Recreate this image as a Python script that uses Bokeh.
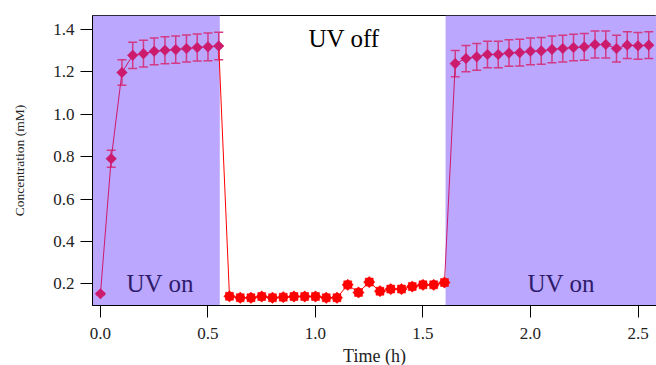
import numpy as np
from bokeh.plotting import figure
from bokeh.models import (BoxAnnotation, Whisker, TeeHead, ColumnDataSource,
                          FixedTicker, PrintfTickFormatter, Label)
from bokeh.embed import file_html
from bokeh.resources import INLINE

# ---- data ----
t_on1 = [0.0, 0.05, 0.10, 0.15, 0.20, 0.25, 0.30, 0.35, 0.40, 0.45, 0.50, 0.55]
c_on1 = [0.153, 0.790, 1.197, 1.278, 1.286, 1.297, 1.302, 1.305, 1.310, 1.315, 1.318, 1.322]
e_on1 = [0.005, 0.040, 0.060, 0.062, 0.063, 0.063, 0.064, 0.064, 0.064, 0.064, 0.065, 0.065]

t_off = [0.60, 0.65, 0.70, 0.75, 0.80, 0.85, 0.90, 0.95, 1.00, 1.05, 1.10,
         1.15, 1.20, 1.25, 1.30, 1.35, 1.40, 1.45, 1.50, 1.55, 1.60]
c_off = [0.141, 0.134, 0.134, 0.140, 0.134, 0.137, 0.140, 0.140, 0.140, 0.134, 0.134,
         0.195, 0.159, 0.208, 0.165, 0.175, 0.175, 0.187, 0.195, 0.195, 0.206]

t_on2 = [1.65, 1.70, 1.75, 1.80, 1.85, 1.90, 1.95, 2.00, 2.05, 2.10,
         2.15, 2.20, 2.25, 2.30, 2.35, 2.40, 2.45, 2.50, 2.55]
c_on2 = [1.239, 1.263, 1.271, 1.282, 1.282, 1.289, 1.291, 1.297, 1.299, 1.306,
         1.310, 1.315, 1.318, 1.329, 1.329, 1.310, 1.326, 1.323, 1.326]
e_on2 = [0.062, 0.062, 0.063, 0.063, 0.063, 0.063, 0.063, 0.063, 0.063, 0.063,
         0.063, 0.063, 0.063, 0.064, 0.064, 0.063, 0.063, 0.063, 0.063]

x_ticks = [0.0, 0.5, 1.0, 1.5, 2.0, 2.5]
y_ticks = [0.2, 0.4, 0.6, 0.8, 1.0, 1.2, 1.4]
uv_on_spans = [(None, 0.555), (1.605, None)]

# ---- styling ----
PURPLE_BG = "#BBA7FE"
DARK = "#CC1A6C"
BAR = "#D23A86"
RED = "#FF0000"
SERIF = "Liberation Serif"

p = figure(frame_width=564, frame_height=290,
           min_border_left=92, min_border_right=0, min_border_top=15, min_border_bottom=0,
           x_range=(-0.037, 2.586), y_range=(0.0975, 1.466),
           output_backend="svg", toolbar_location=None,
           background_fill_color="white", border_fill_color="white")

for lo, hi in uv_on_spans:
    kw = {}
    if lo is not None:
        kw["left"] = lo
    if hi is not None:
        kw["right"] = hi
    p.add_layout(BoxAnnotation(fill_color=PURPLE_BG, fill_alpha=1.0, line_alpha=0,
                               level="underlay", **kw))

p.grid.visible = False
p.outline_line_color = "black"
p.outline_line_width = 1

# connecting lines
p.line(t_on1, c_on1, line_color=DARK, line_width=1)
p.line([t_on1[-1]] + t_off, [c_on1[-1]] + c_off, line_color=RED, line_width=1)
p.line([t_off[-1]] + t_on2, [c_off[-1]] + c_on2, line_color=DARK, line_width=1)

# error bars
for tt, cc, ee in [(t_on1, c_on1, e_on1), (t_on2, c_on2, e_on2)]:
    src = ColumnDataSource(dict(x=tt, lo=np.array(cc) - np.array(ee), hi=np.array(cc) + np.array(ee)))
    w = Whisker(source=src, base="x", lower="lo", upper="hi", dimension="height",
                line_color=BAR, line_width=1.5,
                upper_head=TeeHead(size=9, line_color=BAR, line_width=1.5),
                lower_head=TeeHead(size=9, line_color=BAR, line_width=1.5))
    p.add_layout(w)

# markers
for tt, cc in [(t_on1, c_on1), (t_on2, c_on2)]:
    p.scatter(tt, cc, marker="square", angle=np.pi / 4, size=7.5,
              fill_color=DARK, line_color=DARK, line_width=0.5)

p.scatter(t_off, c_off, marker="square", size=8, fill_color=RED, line_color=RED, line_width=0.5)
p.scatter(t_off, c_off, marker="square", angle=np.pi / 4, size=8,
          fill_color=RED, line_color=RED, line_width=0.5)

# labels
p.add_layout(Label(x=1.133, y=1.356, text="UV off", text_align="center",
                   text_baseline="alphabetic", text_font=SERIF, text_font_size="25px",
                   text_color="black"))
for xx in [0.278, 2.143]:
    p.add_layout(Label(x=xx, y=0.201, text="UV on", text_align="center",
                       text_baseline="alphabetic", text_font=SERIF, text_font_size="25px",
                       text_color="#2E1B6C"))

# axes
p.xaxis.ticker = FixedTicker(ticks=x_ticks)
p.yaxis.ticker = FixedTicker(ticks=y_ticks)
p.xaxis.formatter = PrintfTickFormatter(format="%.1f")
p.yaxis.formatter = PrintfTickFormatter(format="%.1f")
for ax in (p.xaxis[0], p.yaxis[0]):
    ax.axis_line_color = "black"
    ax.major_tick_line_color = "black"
    ax.major_tick_out = 12
    ax.major_tick_in = 0
    ax.minor_tick_line_color = None
    ax.major_label_text_font = SERIF
    ax.major_label_text_font_size = "17px"
    ax.major_label_text_color = "#222222"
    ax.axis_label_text_font = SERIF
    ax.axis_label_text_font_style = "normal"
    ax.axis_label_text_color = "#222222"

p.xaxis.axis_label = "Time (h)"
p.xaxis.axis_label_text_font_size = "18px"
p.xaxis.major_label_standoff = 10
p.xaxis.axis_label_standoff = 4

p.yaxis.axis_label = "Concentration (mM)"
p.yaxis.axis_label_text_font_size = "13.5px"
p.yaxis.major_label_standoff = 6
p.yaxis.axis_label_standoff = 23

open("out.html", "w").write(file_html(p, INLINE))
